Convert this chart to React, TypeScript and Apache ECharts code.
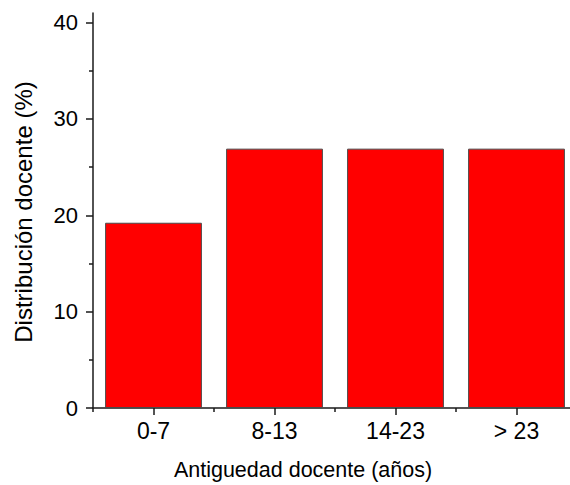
import React, { useEffect, useRef } from "react";
import * as echarts from "echarts";

const categories = ["0-7", "8-13", "14-23", "> 23"];
const values = [19.23, 26.92, 26.92, 26.92];
const yMajorTicks = [0, 10, 20, 30, 40];
const yMinorTicks = [5, 15, 25, 35];
const xBoundaryTicks = [0, 1, 2, 3, 4];
const xTitle = "Antiguedad docente (años)";
const yTitle = "Distribución docente (%)";

const FONT = "'Liberation Sans', Arial, sans-serif";
const AXIS_COLOR = "#1a1a1a";

export default function App() {
  const ref = useRef<HTMLDivElement>(null);
  useEffect(() => {
    if (!ref.current) return;
    const chart = echarts.init(ref.current, null, { renderer: "svg" });
    chart.setOption({
      animation: false,
      backgroundColor: "#ffffff",
      grid: { left: 93, top: 13, height: 395, width: 484, containLabel: false, outerBoundsMode: "none" },
      xAxis: [
        {
          type: "category",
          data: categories,
          boundaryGap: true,
          axisLine: { show: true, lineStyle: { color: AXIS_COLOR, width: 1.5 } },
          axisTick: { show: true, alignWithLabel: true, length: 7, inside: false, lineStyle: { color: AXIS_COLOR, width: 1.5 } },
          axisLabel: { color: "#000", fontSize: 23, fontFamily: FONT, margin: 11 },
          splitLine: { show: false },
        },
        {
          type: "value",
          min: 0,
          max: 4,
          position: "bottom",
          axisLine: { show: false },
          axisTick: { show: true, length: 4, customValues: xBoundaryTicks, lineStyle: { color: AXIS_COLOR, width: 1.5 } },
          axisLabel: { show: false },
          splitLine: { show: false },
        },
      ],
      yAxis: [
        {
          type: "value",
          min: 0,
          max: 41,
          position: "left",
          axisLine: { show: true, lineStyle: { color: AXIS_COLOR, width: 1.5 } },
          axisTick: { show: true, length: 7, customValues: yMajorTicks, lineStyle: { color: AXIS_COLOR, width: 1.5 } },
          axisLabel: { color: "#000", fontSize: 22, fontFamily: FONT, margin: 15, customValues: yMajorTicks },
          splitLine: { show: false },
        },
        {
          type: "value",
          min: 0,
          max: 41,
          position: "left",
          axisLine: { show: false },
          axisTick: { show: true, length: 4, customValues: yMinorTicks, lineStyle: { color: AXIS_COLOR, width: 1.5 } },
          axisLabel: { show: false },
          splitLine: { show: false },
        },
      ],
      series: [
        {
          type: "bar",
          xAxisIndex: 0,
          yAxisIndex: 0,
          data: values,
          barCategoryGap: "20%",
          itemStyle: { color: "#ff0000", borderColor: "#4a4a4a", borderWidth: 1 },
        },
      ],
      graphic: [
        {
          type: "text",
          x: 303,
          y: 470,
          style: { text: xTitle, fontSize: 21.5, fontFamily: FONT, fill: "#000", align: "center", verticalAlign: "middle" },
        },
        {
          type: "text",
          x: 23,
          y: 212,
          rotation: Math.PI / 2,
          style: { text: yTitle, fontSize: 24, fontFamily: FONT, fill: "#000", align: "center", verticalAlign: "middle" },
        },
      ],
    });
    return () => chart.dispose();
  }, []);
  return (
    <div
      ref={ref}
      style={{ position: "fixed", left: 0, top: 0, width: 570, height: 485, overflow: "hidden" }}
    />
  );
}
